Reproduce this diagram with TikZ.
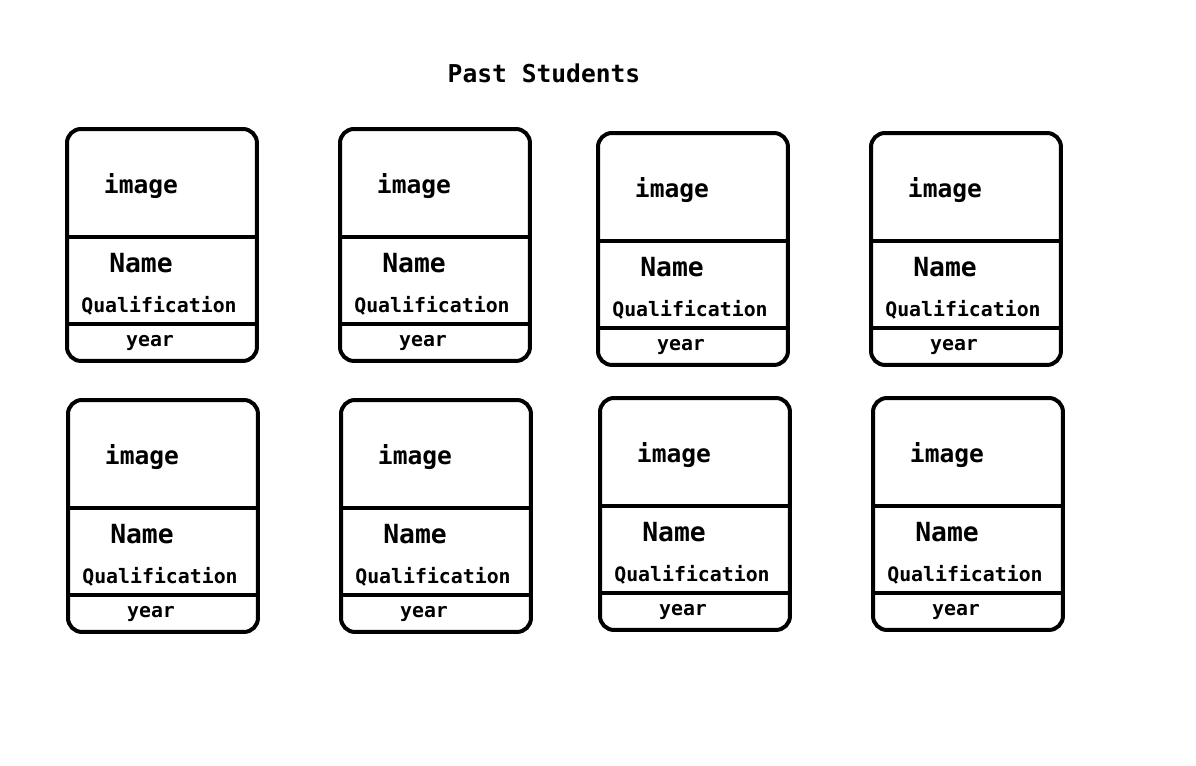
\documentclass[tikz,border=0pt]{standalone}
\usepackage{fontspec}
\setmainfont{DejaVu Sans Mono}
\usetikzlibrary{positioning}

\begin{document}
\begin{tikzpicture}[x=0.02cm, y=-0.02cm,
    card/.style={draw, line width=0.08cm, rounded corners=0.28cm, anchor=north west,
                 minimum width=3.8cm, minimum height=4.64cm, inner sep=0pt},
    rule/.style={line width=0.08cm},
    bigtext/.style={font=\fontsize{14}{16}\selectfont\bfseries, anchor=base, inner sep=0pt},
    smalltext/.style={font=\fontsize{11.3}{13}\selectfont\bfseries, anchor=base, inner sep=0pt}]
\useasboundingbox (0,0) rectangle (1196,765);
\node[bigtext] (title) at (544,82) {Past Students};
\foreach \x/\y [count=\i] in {65/127, 338/127, 596/131, 869/131,
                              66/398, 339/398, 598/396, 871/396} {
  \node[card] (card\i) at (\x,\y) {};
  \draw[rule] (card\i.west |- 0,\y+110) -- (card\i.east |- 0,\y+110);
  \draw[rule] (card\i.west |- 0,\y+197) -- (card\i.east |- 0,\y+197);
  \node[bigtext] (image\i) at (\x+76,\y+66) {image};
  \node[bigtext, font=\fontsize{15}{17}\selectfont\bfseries] (name\i) at (\x+76,\y+145) {Name};
  \node[smalltext] (qual\i) at (\x+94,\y+185) {Qualification};
  \node[smalltext] (year\i) at (\x+85,\y+219) {year};
}
\end{tikzpicture}
\end{document}
